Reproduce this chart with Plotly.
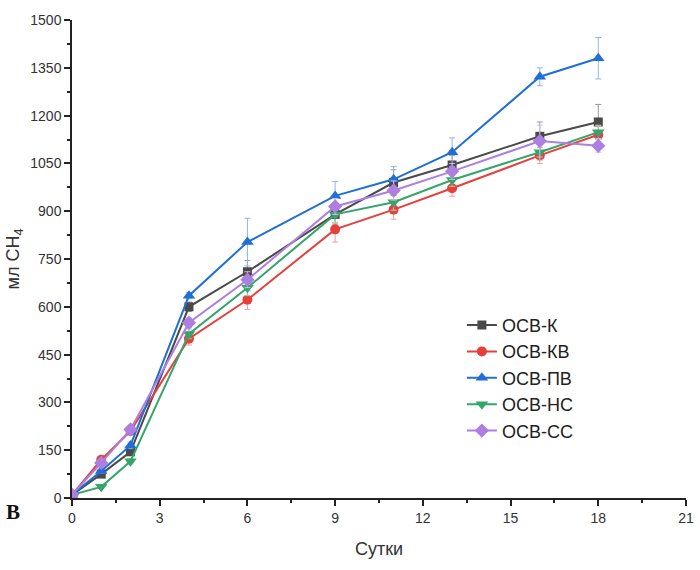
import plotly.graph_objects as go

days = [0, 1, 2, 4, 6, 9, 11, 13, 16, 18]

names = ["ОСВ-К", "ОСВ-КВ", "ОСВ-ПВ", "ОСВ-НС", "ОСВ-СС"]

osv_k = [10, 75, 145, 600, 710, 890, 990, 1045, 1135, 1180]
osv_kv = [10, 120, 210, 500, 622, 843, 905, 972, 1075, 1140]
osv_pv = [10, 85, 165, 635, 803, 948, 1000, 1085, 1322, 1380]
osv_ns = [10, 35, 115, 515, 660, 890, 928, 998, 1085, 1148]
osv_ss = [10, 110, 215, 550, 685, 915, 965, 1025, 1120, 1105]

err_k = [0, 8, 10, 15, 35, 30, 40, 30, 45, 55]
err_kv = [0, 10, 10, 20, 30, 40, 30, 25, 25, 30]
err_pv = [0, 8, 10, 10, 75, 45, 40, 45, 28, 65]
err_ns = [0, 5, 8, 15, 25, 25, 25, 20, 25, 20]
err_ss = [0, 8, 10, 15, 25, 25, 30, 25, 50, 20]

series = [osv_k, osv_kv, osv_pv, osv_ns, osv_ss]
errors = [err_k, err_kv, err_pv, err_ns, err_ss]
colors = ["#4a4a4a", "#e5403c", "#1f6fd6", "#35a56a", "#ad7fe0"]
err_colors = ["#9a9a9a", "#f0a0a0", "#90b4e8", "#9fd3b4", "#d4bdf0"]
symbols = ["square", "circle", "triangle-up", "triangle-down", "diamond"]
sizes = [9, 10, 11, 11, 11]

FONT = "Liberation Sans, Arial, sans-serif"

fig = go.Figure()
for name, ys, er, c, ec, s, sz in zip(names, series, errors, colors, err_colors, symbols, sizes):
    fig.add_trace(go.Scatter(
        x=days, y=ys, name=name, mode="lines+markers",
        line=dict(color=c, width=2),
        marker=dict(symbol=s, size=sz, color=c),
        error_y=dict(type="data", array=er, visible=True, color=ec, thickness=1, width=3),
    ))

axis_common = dict(
    showline=True, linecolor="#222", linewidth=1.5, mirror=False,
    ticks="outside", ticklen=6, tickwidth=1.5, tickcolor="#222",
    showgrid=False, zeroline=False, automargin=False,
    tickfont=dict(family=FONT, size=14, color="#333"),
)

fig.update_layout(
    width=700, height=570,
    margin=dict(l=72, r=14, t=20, b=72),
    paper_bgcolor="white", plot_bgcolor="white",
    showlegend=True,
    legend=dict(x=0.635, y=0.40, xanchor="left", yanchor="top",
                font=dict(family=FONT, size=18, color="#222"),
                bgcolor="rgba(0,0,0,0)", tracegroupgap=0, itemwidth=30),
    xaxis=dict(range=[0, 21], dtick=3, tick0=0,
               minor=dict(dtick=1.5, ticks="outside", ticklen=3, tickcolor="#222"),
               title=dict(text="Сутки", font=dict(family=FONT, size=18, color="#333"), standoff=18),
               **axis_common),
    yaxis=dict(range=[0, 1500], dtick=150, tick0=0,
               minor=dict(dtick=75, ticks="outside", ticklen=3, tickcolor="#222"),
               title=dict(text="мл CH<sub>4</sub>", font=dict(family=FONT, size=18, color="#333"), standoff=6),
               **axis_common),
)

fig.add_annotation(text="<b>B</b>", xref="paper", yref="paper", x=-0.11, y=-0.03,
                   xanchor="left", yanchor="middle", showarrow=False,
                   font=dict(family="Liberation Serif, Times New Roman, serif", size=21, color="#111"))

fig.write_html("out.html")
